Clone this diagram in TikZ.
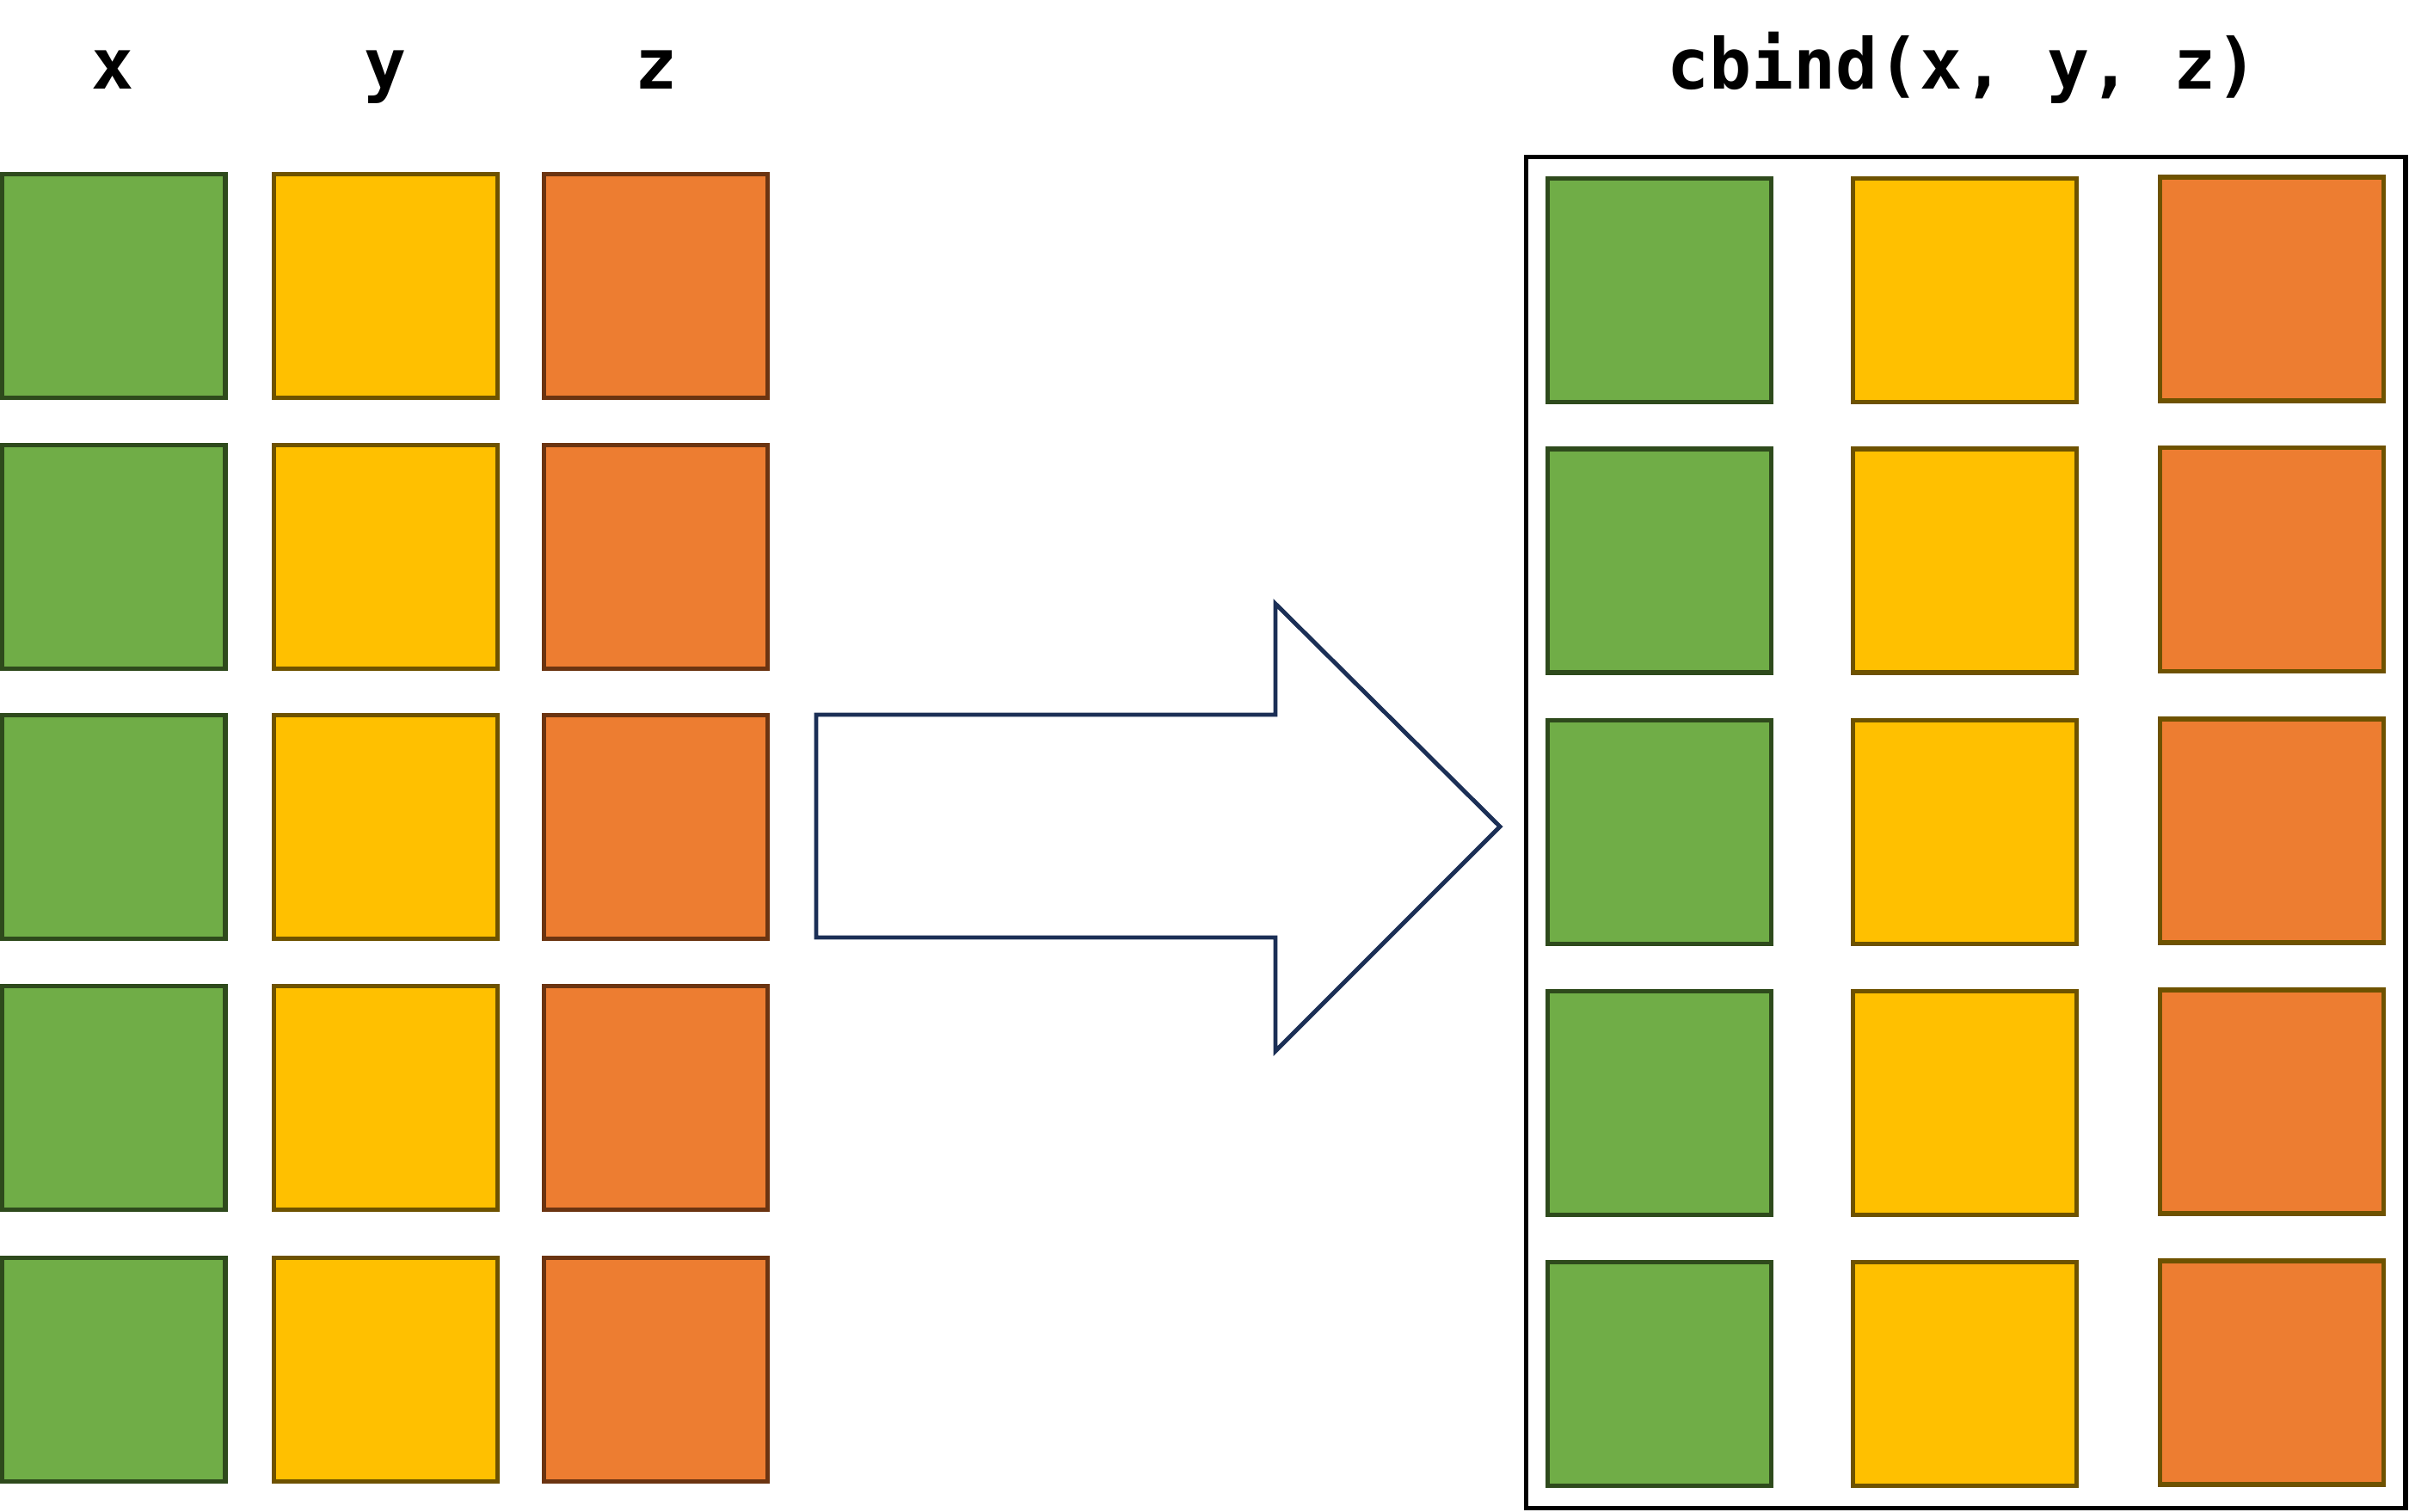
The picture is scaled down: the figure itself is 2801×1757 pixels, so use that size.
\documentclass[tikz,border=0pt]{standalone}
\usepackage{fontspec}
\setmonofont{DejaVu Sans Mono}
\definecolor{gfill}{HTML}{70AD47}
\definecolor{gline}{HTML}{2E4A1C}
\definecolor{yfill}{HTML}{FFC000}
\definecolor{yline}{HTML}{6E5200}
\definecolor{ofill}{HTML}{ED7D31}
\definecolor{oline}{HTML}{6B3411}
\definecolor{arrowline}{HTML}{1B2F56}
\begin{document}
\begin{tikzpicture}[x=0.01cm,y=-0.01cm,
  sq/.style={draw, line width=1.6pt, minimum width=2.60cm, minimum height=2.60cm, inner sep=0pt, outer sep=0pt},
  gsq/.style={sq, fill=gfill, draw=gline},
  ysq/.style={sq, fill=yfill, draw=yline},
  osq/.style={sq, fill=ofill, draw=oline},
  osqr/.style={sq, fill=ofill, draw=yline},
  lbl/.style={anchor=base, inner sep=0pt, font=\ttfamily\bfseries\fontsize{23.2}{27}\selectfont}]
\useasboundingbox (0,0) rectangle (2801,1757);
% labels
\node[lbl] (lx) at (131,103) {x};
\node[lbl] (ly) at (448,103) {y};
\node[lbl] (lz) at (763,103) {z};
\node[lbl] (lc) at (2282,103) {cbind(x, y, z)};
% left grid
\foreach \r/\yy in {1/332.5,2/647.5,3/961.5,4/1276.5,5/1592.5}{
  \node[gsq] (lg\r) at (132,\yy) {};
  \node[ysq] (ly\r) at (448.5,\yy) {};
  \node[osq] (lo\r) at (762.5,\yy) {};
}
% arrow
\draw[arrowline, line width=1.4pt, line join=miter, fill=white]
  (949,831) -- (1483,831) -- (1483,702) -- (1744,961) -- (1483,1222) -- (1483,1090) -- (949,1090) -- cycle;
% right box
\draw[black, line width=1.5pt] (1774.5,182.5) rectangle (2797,1753.5);
\foreach \r/\yy in {1/337.5,2/652,3/967.5,4/1282.5,5/1597.5}{
  \node[gsq] (rg\r) at (1929.5,\yy) {};
  \node[ysq] (ry\r) at (2284.5,\yy) {};
  \node[osqr] (ro\r) at (2641.5,\yy-1.5) {};
}
\end{tikzpicture}
\end{document}
